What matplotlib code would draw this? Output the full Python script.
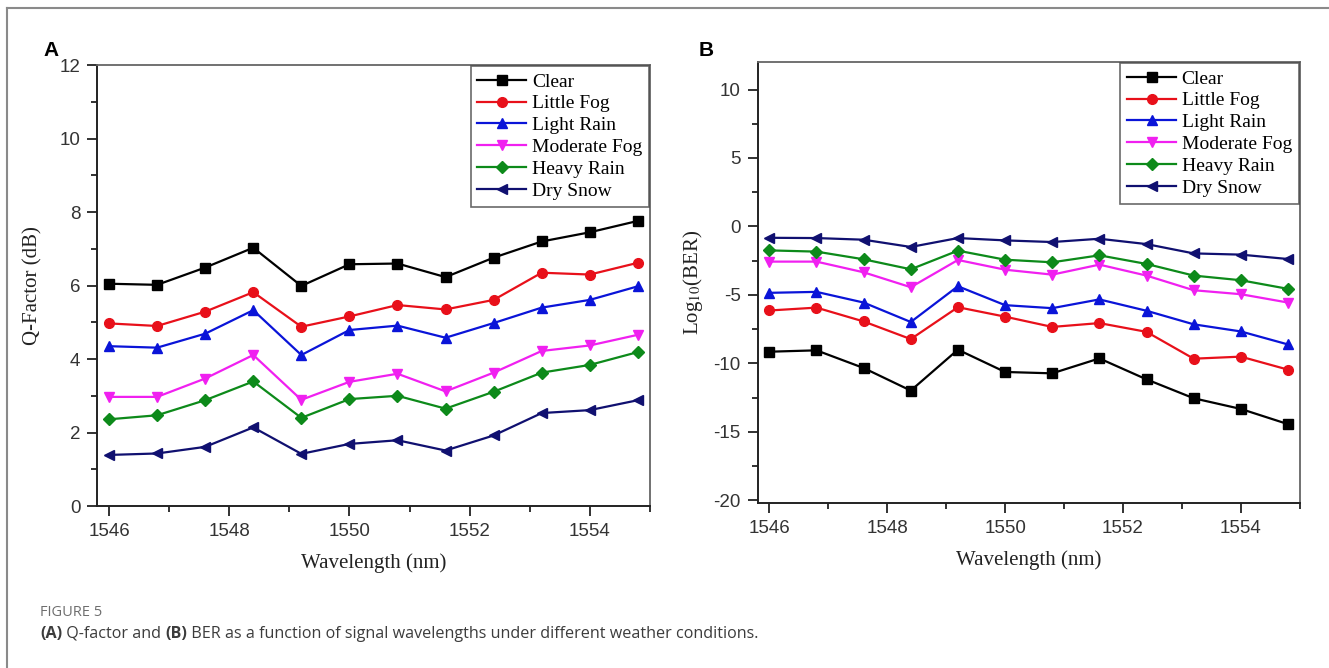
import matplotlib.pyplot as plt
from matplotlib.ticker import MultipleLocator
from matplotlib.lines import Line2D
from matplotlib.transforms import offset_copy

plt.rcParams['axes.unicode_minus'] = False
plt.rcParams['mathtext.fontset'] = 'stix'

# Wavelengths (nm)
wavelength = [1546.0, 1546.8, 1547.6, 1548.4, 1549.2, 1550.0,
              1550.8, 1551.6, 1552.4, 1553.2, 1554.0, 1554.8]

conditions = ["Clear", "Little Fog", "Light Rain", "Moderate Fog", "Heavy Rain", "Dry Snow"]

# Panel A: Q-factor (dB)
q_clear = [6.05, 6.02, 6.49, 7.03, 5.99, 6.58, 6.60, 6.23, 6.76, 7.20, 7.45, 7.76]
q_little_fog = [4.97, 4.90, 5.29, 5.82, 4.88, 5.16, 5.47, 5.35, 5.61, 6.35, 6.30, 6.62]
q_light_rain = [4.35, 4.31, 4.69, 5.33, 4.11, 4.79, 4.91, 4.58, 4.98, 5.40, 5.61, 5.98]
q_moderate_fog = [2.97, 2.97, 3.47, 4.11, 2.89, 3.38, 3.60, 3.12, 3.63, 4.22, 4.37, 4.66]
q_heavy_rain = [2.36, 2.47, 2.88, 3.39, 2.40, 2.91, 3.00, 2.65, 3.11, 3.63, 3.84, 4.19]
q_dry_snow = [1.39, 1.43, 1.61, 2.14, 1.42, 1.69, 1.79, 1.51, 1.92, 2.53, 2.61, 2.88]

# Panel B: log10(BER)
ber_clear = [-9.15, -9.05, -10.34, -11.99, -9.00, -10.63, -10.73, -9.64, -11.17, -12.55, -13.33, -14.44]
ber_little_fog = [-6.14, -5.93, -6.94, -8.23, -5.90, -6.59, -7.34, -7.06, -7.70, -9.66, -9.51, -10.46]
ber_light_rain = [-4.85, -4.78, -5.56, -6.98, -4.37, -5.75, -5.97, -5.33, -6.16, -7.15, -7.67, -8.62]
ber_moderate_fog = [-2.57, -2.57, -3.35, -4.44, -2.45, -3.16, -3.52, -2.79, -3.59, -4.66, -4.95, -5.56]
ber_heavy_rain = [-1.75, -1.84, -2.40, -3.13, -1.77, -2.43, -2.62, -2.11, -2.74, -3.59, -3.93, -4.56]
ber_dry_snow = [-0.83, -0.85, -0.97, -1.50, -0.85, -1.02, -1.14, -0.90, -1.29, -1.97, -2.06, -2.38]

q_series = [q_clear, q_little_fog, q_light_rain, q_moderate_fog, q_heavy_rain, q_dry_snow]
ber_series = [ber_clear, ber_little_fog, ber_light_rain, ber_moderate_fog, ber_heavy_rain, ber_dry_snow]

colors = ["#000000", "#e8101a", "#0a14d8", "#f020f0", "#0d8a1a", "#101070"]
markers = ["s", "o", "^", "v", "D", "<"]
msizes = [6.5, 7, 7.5, 7.5, 6, 7.5]

SERIF = ["Liberation Serif", "DejaVu Serif"]
SANS = ["Liberation Sans", "DejaVu Sans"]
CAP = ["Open Sans", "DejaVu Sans"]


def style_axes(ax, ylim, ymajor, yminor):
    ax.set_xlim(1545.8, 1555.0)
    ax.set_ylim(*ylim)
    ax.xaxis.set_major_locator(MultipleLocator(2))
    ax.xaxis.set_minor_locator(MultipleLocator(1))
    ax.yaxis.set_major_locator(MultipleLocator(ymajor))
    ax.yaxis.set_minor_locator(MultipleLocator(yminor))
    ax.tick_params(which="both", direction="out", top=False, right=False,
                   color="#222222", width=1.3)
    ax.tick_params(which="major", length=7, labelsize=13.5, labelcolor="#333333", pad=5)
    ax.tick_params(which="minor", length=4)
    for lab in ax.get_xticklabels() + ax.get_yticklabels():
        lab.set_family(SANS)
    for side in ["left", "bottom"]:
        ax.spines[side].set_color("#222222")
        ax.spines[side].set_linewidth(1.4)
    for side in ["top", "right"]:
        ax.spines[side].set_color("#666666")
        ax.spines[side].set_linewidth(1.3)


def draw_panel(ax, series):
    for vals, c, m, ms, name in zip(series, colors, markers, msizes, conditions):
        ax.plot(wavelength, vals, color=c, marker=m, markersize=ms, linewidth=1.6,
                markeredgecolor=c, label=name)
    leg = ax.legend(loc="upper right", borderaxespad=0.05, frameon=True, fancybox=False,
                    prop={"family": SERIF, "size": 14}, handlelength=2.5,
                    handletextpad=0.3, labelspacing=0.22, borderpad=0.35)
    leg.get_frame().set_edgecolor("#444444")
    leg.get_frame().set_linewidth(1.2)


fig = plt.figure(figsize=(13.29, 6.68), dpi=100)

ax_a = fig.add_axes([0.073, 0.2425, 0.416, 0.660])
draw_panel(ax_a, q_series)
style_axes(ax_a, (0, 12), 2, 1)
ax_a.set_xlabel("Wavelength (nm)", family=SERIF, fontsize=15, color="#222222", labelpad=10)
ax_a.set_ylabel("Q-Factor (dB)", family=SERIF, fontsize=15, color="#222222", labelpad=12)

ax_b = fig.add_axes([0.570, 0.247, 0.408, 0.660])
draw_panel(ax_b, ber_series)
style_axes(ax_b, (-20.2, 12), 5, 2.5)
ax_b.set_xlabel("Wavelength (nm)", family=SERIF, fontsize=15, color="#222222", labelpad=10)
ax_b.set_ylabel("Log$_{10}$(BER)", family=SERIF, fontsize=15, color="#222222", labelpad=6)

# panel letters
fig.text(43 / 1329, 1 - 50 / 668, "A", family=SANS, fontsize=15, fontweight="bold", va="center")
fig.text(699 / 1329, 1 - 50 / 668, "B", family=SANS, fontsize=15, fontweight="bold", va="center")

# outer frame (top and left)
fig.add_artist(Line2D([7 / 1329, 1.0], [1 - 8 / 668, 1 - 8 / 668], color="#8a8a8a", linewidth=1.5))
fig.add_artist(Line2D([7 / 1329, 7 / 1329], [0.0, 1 - 8 / 668], color="#8a8a8a", linewidth=1.5))

# caption
fig.text(40 / 1329, 1 - 613 / 668, "FIGURE 5", family=CAP, fontsize=10.5, color="#6e6e6e",
         va="center")
pieces = [("(A)", "bold"), (" Q-factor and ", "normal"), ("(B)", "bold"),
          (" BER as a function of signal wavelengths under different weather conditions.", "normal")]
renderer = fig.canvas.get_renderer()
x0 = 40 / 1329
y0 = 1 - 634 / 668
dx = 0.0
for txt, wt in pieces:
    t = fig.text(x0, y0, txt, family=CAP, fontsize=11.6, color="#3c3c3c", va="center",
                 fontweight=wt,
                 transform=offset_copy(fig.transFigure, fig=fig, x=dx, y=0, units="dots"))
    dx += t.get_window_extent(renderer=renderer).width

fig.savefig("out.png", dpi=100)
